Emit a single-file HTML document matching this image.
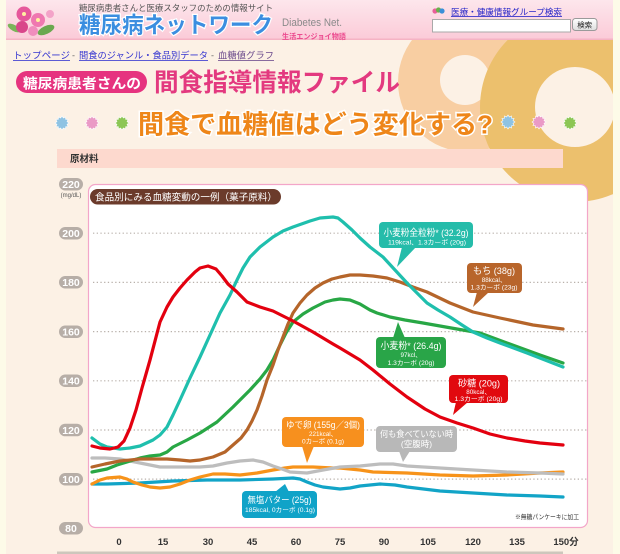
<!DOCTYPE html>
<html><head><meta charset="utf-8">
<style>
html,body{margin:0;padding:0;background:#fdfbe8;}
svg{display:block;}
text{font-family:"Liberation Sans","Noto Sans CJK JP",sans-serif;}
</style></head>
<body>
<svg width="620" height="554" viewBox="0 0 620 554" xmlns="http://www.w3.org/2000/svg">
<defs>
<linearGradient id="hdr" x1="0" y1="0" x2="0" y2="1">
<stop offset="0" stop-color="#fde6ec"/><stop offset="1" stop-color="#fbcbd8"/>
</linearGradient>
<linearGradient id="btn" x1="0" y1="0" x2="0" y2="1">
<stop offset="0" stop-color="#ffffff"/><stop offset="1" stop-color="#dedede"/>
</linearGradient>
<clipPath id="pg"><rect x="6" y="40" width="607" height="514"/></clipPath>
</defs>
<rect x="0" y="0" width="620" height="554" fill="#fdfbe8"/>
<rect x="6" y="40" width="607" height="514" fill="#fcf1e5"/>
<g clip-path="url(#pg)">
<circle cx="468" cy="82" r="70" fill="#f8cea2"/>
<circle cx="465" cy="80" r="25" fill="#fcf1e5"/>
<circle cx="575" cy="107" r="95" fill="#ecc06d"/>
<circle cx="575" cy="107" r="40" fill="#fcf1e5"/>
<circle cx="533" cy="183" r="4" fill="#ecc06d"/>
</g>
<!-- header -->
<rect x="6" y="0" width="607" height="39" fill="url(#hdr)"/>
<rect x="6" y="38.5" width="607" height="1.5" fill="#f5b3c4"/>
<g>
<ellipse cx="46" cy="30" rx="9" ry="4" fill="#6aa84f" transform="rotate(-25 46 30)"/>
<ellipse cx="14" cy="28" rx="7" ry="3" fill="#7bb45a" transform="rotate(30 14 28)"/>
<circle cx="24" cy="14" r="7.5" fill="#e6579b"/>
<circle cx="38" cy="20" r="7" fill="#ef78b0"/>
<circle cx="22" cy="27" r="6" fill="#d9468a"/>
<circle cx="33" cy="31" r="5" fill="#f08dbd"/>
<circle cx="50" cy="14" r="4" fill="#f3a3c8"/>
<circle cx="24" cy="14" r="2" fill="#fff0a0"/>
<circle cx="38" cy="20" r="2" fill="#fff0a0"/>
</g>
<text x="79" y="11" font-size="8.4" fill="#555" textLength="194" lengthAdjust="spacingAndGlyphs">糖尿病患者さんと医療スタッフのための情報サイト</text>
<text x="79" y="33" font-size="22.5" font-weight="bold" fill="#3b8ee0" stroke="#ffffff" stroke-width="2.5" paint-order="stroke" textLength="194" lengthAdjust="spacingAndGlyphs">糖尿病ネットワーク</text>
<text x="282" y="26" font-size="11" fill="#8a8a8a" textLength="60" lengthAdjust="spacingAndGlyphs">Diabetes Net.</text>
<text x="282" y="39" font-size="7.5" font-weight="bold" fill="#ec4b8f" textLength="64" lengthAdjust="spacingAndGlyphs">生活エンジョイ物語</text>
<g>
<circle cx="435" cy="11" r="2.6" fill="#e8609a"/>
<circle cx="438.5" cy="10" r="2.6" fill="#6ab04c"/>
<circle cx="442" cy="11" r="2.6" fill="#3a8fd8"/>
</g>
<text x="451" y="15" font-size="8.5" fill="#2424c8" textLength="111" lengthAdjust="spacingAndGlyphs">医療・健康情報グループ検索</text>
<rect x="451" y="16.2" width="111" height="0.8" fill="#2424c8"/>
<rect x="432.5" y="19.5" width="138" height="12.5" fill="#ffffff" stroke="#a9a9a9" stroke-width="1"/>
<rect x="572.5" y="18.5" width="24.5" height="12" rx="3" fill="url(#btn)" stroke="#9a9a9a" stroke-width="1"/>
<text x="584.7" y="27.5" font-size="7.5" fill="#222" text-anchor="middle">検索</text>
<!-- breadcrumb -->
<text x="13" y="58.5" font-size="9.3" fill="#3535d0" textLength="57" lengthAdjust="spacingAndGlyphs">トップページ</text>
<rect x="13" y="60" width="57" height="0.8" fill="#3535d0"/>
<text x="72" y="58.5" font-size="9" fill="#666">-</text>
<text x="79" y="58.5" font-size="9.3" fill="#3535d0" textLength="129" lengthAdjust="spacingAndGlyphs">間食のジャンル・食品別データ</text>
<rect x="79" y="60" width="129" height="0.8" fill="#3535d0"/>
<text x="211" y="58.5" font-size="9" fill="#666">-</text>
<text x="218" y="58.5" font-size="9.3" fill="#6b4a8c" textLength="56" lengthAdjust="spacingAndGlyphs">血糖値グラフ</text>
<rect x="218" y="60" width="56" height="0.8" fill="#6b4a8c"/>
<!-- title -->
<rect x="16" y="71" width="131" height="22" rx="11" fill="#e6337f"/>
<text x="23" y="88.5" font-size="14" font-weight="bold" fill="#ffffff" textLength="118" lengthAdjust="spacingAndGlyphs">糖尿病患者さんの</text>
<text x="154" y="91" font-size="25" font-weight="bold" fill="#e3397f" textLength="246" lengthAdjust="spacingAndGlyphs">間食指導情報ファイル</text>
<!-- stars -->
<g stroke="#ffffff" stroke-width="0.6">
<polygon transform="translate(62,123)" fill="#8fc3e3" points="7,0 5.02,1.35 6.06,3.5 3.68,3.68 3.5,6.06 1.35,5.02 0,7 -1.35,5.02 -3.5,6.06 -3.68,3.68 -6.06,3.5 -5.02,1.35 -7,0 -5.02,-1.35 -6.06,-3.5 -3.68,-3.68 -3.5,-6.06 -1.35,-5.02 0,-7 1.35,-5.02 3.5,-6.06 3.68,-3.68 6.06,-3.5 5.02,-1.35"/>
<polygon transform="translate(92,123)" fill="#ea9ac6" points="7,0 5.02,1.35 6.06,3.5 3.68,3.68 3.5,6.06 1.35,5.02 0,7 -1.35,5.02 -3.5,6.06 -3.68,3.68 -6.06,3.5 -5.02,1.35 -7,0 -5.02,-1.35 -6.06,-3.5 -3.68,-3.68 -3.5,-6.06 -1.35,-5.02 0,-7 1.35,-5.02 3.5,-6.06 3.68,-3.68 6.06,-3.5 5.02,-1.35"/>
<polygon transform="translate(122,123)" fill="#8cc654" points="7,0 5.02,1.35 6.06,3.5 3.68,3.68 3.5,6.06 1.35,5.02 0,7 -1.35,5.02 -3.5,6.06 -3.68,3.68 -6.06,3.5 -5.02,1.35 -7,0 -5.02,-1.35 -6.06,-3.5 -3.68,-3.68 -3.5,-6.06 -1.35,-5.02 0,-7 1.35,-5.02 3.5,-6.06 3.68,-3.68 6.06,-3.5 5.02,-1.35"/>
<polygon transform="translate(508,122)" fill="#8fc3e3" points="7,0 5.02,1.35 6.06,3.5 3.68,3.68 3.5,6.06 1.35,5.02 0,7 -1.35,5.02 -3.5,6.06 -3.68,3.68 -6.06,3.5 -5.02,1.35 -7,0 -5.02,-1.35 -6.06,-3.5 -3.68,-3.68 -3.5,-6.06 -1.35,-5.02 0,-7 1.35,-5.02 3.5,-6.06 3.68,-3.68 6.06,-3.5 5.02,-1.35"/>
<polygon transform="translate(539,122)" fill="#ea9ac6" points="7,0 5.02,1.35 6.06,3.5 3.68,3.68 3.5,6.06 1.35,5.02 0,7 -1.35,5.02 -3.5,6.06 -3.68,3.68 -6.06,3.5 -5.02,1.35 -7,0 -5.02,-1.35 -6.06,-3.5 -3.68,-3.68 -3.5,-6.06 -1.35,-5.02 0,-7 1.35,-5.02 3.5,-6.06 3.68,-3.68 6.06,-3.5 5.02,-1.35"/>
<polygon transform="translate(570,123)" fill="#8cc654" points="7,0 5.02,1.35 6.06,3.5 3.68,3.68 3.5,6.06 1.35,5.02 0,7 -1.35,5.02 -3.5,6.06 -3.68,3.68 -6.06,3.5 -5.02,1.35 -7,0 -5.02,-1.35 -6.06,-3.5 -3.68,-3.68 -3.5,-6.06 -1.35,-5.02 0,-7 1.35,-5.02 3.5,-6.06 3.68,-3.68 6.06,-3.5 5.02,-1.35"/>
</g>
<text x="138" y="133.5" font-size="26" font-weight="bold" fill="#ee8619" stroke="#ffffff" stroke-width="3" paint-order="stroke" textLength="355" lengthAdjust="spacingAndGlyphs">間食で血糖値はどう変化する?</text>
<!-- 原材料 bar -->
<rect x="57" y="149" width="506" height="19" fill="#fdd9ce"/>
<text x="70" y="162" font-size="9.5" font-weight="bold" fill="#333">原材料</text>
<!-- chart panel -->
<rect x="88.5" y="184.5" width="499" height="343" rx="7" fill="#ffffff" stroke="#f3a6c9" stroke-width="1.2"/>
<g stroke="#b9b1ab" stroke-width="1.2" stroke-dasharray="1.3 2.4">
<line x1="93" y1="233.2" x2="588" y2="233.2"/>
<line x1="93" y1="282.4" x2="588" y2="282.4"/>
<line x1="93" y1="331.6" x2="588" y2="331.6"/>
<line x1="93" y1="380.8" x2="588" y2="380.8"/>
<line x1="93" y1="430" x2="588" y2="430"/>
<line x1="93" y1="479.1" x2="588" y2="479.1"/>
</g>
<!-- y labels -->
<g fill="#b7aea7">
<rect x="59" y="178" width="24" height="12.5" rx="6.2"/>
<rect x="59" y="227" width="24" height="12.5" rx="6.2"/>
<rect x="59" y="276" width="24" height="12.5" rx="6.2"/>
<rect x="59" y="325.5" width="24" height="12.5" rx="6.2"/>
<rect x="59" y="374.5" width="24" height="12.5" rx="6.2"/>
<rect x="59" y="423.8" width="24" height="12.5" rx="6.2"/>
<rect x="59" y="473" width="24" height="12.5" rx="6.2"/>
<rect x="59" y="522" width="24" height="12.5" rx="6.2"/>
</g>
<g fill="#ffffff" font-size="10.5" font-weight="bold" text-anchor="middle">
<text x="71" y="188">220</text>
<text x="71" y="237">200</text>
<text x="71" y="286">180</text>
<text x="71" y="335.5">160</text>
<text x="71" y="384.5">140</text>
<text x="71" y="433.8">120</text>
<text x="71" y="483">100</text>
<text x="71" y="532">80</text>
</g>
<text x="71" y="197" font-size="6" fill="#555" text-anchor="middle">(mg/dL)</text>
<!-- x labels -->
<g fill="#333" font-size="9.5" font-weight="bold" text-anchor="middle">
<text x="119" y="545">0</text>
<text x="163" y="545">15</text>
<text x="208" y="545">30</text>
<text x="252" y="545">45</text>
<text x="296" y="545">60</text>
<text x="340" y="545">75</text>
<text x="384" y="545">90</text>
<text x="428" y="545">105</text>
<text x="473" y="545">120</text>
<text x="517" y="545">135</text>
<text x="566" y="545">150分</text>
</g>
<rect x="57" y="551.5" width="506" height="2.5" fill="#cdc6bc"/>
<!-- chart title -->
<rect x="90" y="189" width="191" height="15.5" rx="7.7" fill="#6b3b2b"/>
<text x="95" y="200.3" font-size="9.8" fill="#ffffff" textLength="182" lengthAdjust="spacingAndGlyphs">食品別にみる血糖変動の一例（菓子原料）</text>
<!-- series -->
<g fill="none" stroke-width="3.2" stroke-linejoin="round" stroke-linecap="round">
<polyline stroke="#12a4c7" points="92,484 107,484 140,483 173,481 207,480 240,480 273,479 293,478 300,479 307,482 315,485 323,487 340,489 350,488 360,486 380,484 395,485 407,487 440,491 473,493 507,495 540,496 563,497"/>
<polyline stroke="#f7931a" points="92,484 100,480 107,478 120,477 127,479 133,482 142,485 150,487 160,488 170,487 180,484 190,480 200,477 213,474 225,474 240,475 257,473 273,470 285,468 293,467 313,467 333,468 340,468 360,470 373,472 407,473 440,475 473,476 507,475 540,473 563,472"/>
<polyline stroke="#bdbdbd" points="92,458 105,458 120,459 130,461 140,463 150,465 160,467 183,467 200,467 213,466 227,463 240,461 253,460 263,462 273,466 282,469 290,472 307,473 323,470 340,467 360,466 380,464 393,464 407,466 440,468 473,470 507,472 540,473 563,474"/>
<polyline stroke="#28a745" points="92,472 107,469 117,465 127,462 140,458 150,456 160,455 167,452 173,447 187,440 200,433 217,422 233,407 250,390 260,379 267,370 273,360 280,345 286,333 293,322 303,314 313,308 325,302 333,300 340,299 350,300 360,304 370,310 377,313 390,317 405,320 423,323 457,329 480,333 507,343 540,355 563,363"/>
<polyline stroke="#b5652a" points="92,467 105,464 120,461 140,459 167,459 180,460 190,461 200,460 213,457 225,452 233,445 241,438 247,430 252,421 257,410 262,396 267,380 273,365 278,350 283,337 288,324 293,313 300,303 307,295 315,288 323,283 332,279 340,277 350,275 360,275 373,276 387,278 400,282 413,287 427,292 450,303 473,312 500,318 533,325 563,329"/>
<polyline stroke="#1fbfad" points="92,438 100,444 107,447 120,449 130,448 140,446 153,440 160,435 167,427 173,415 180,400 190,378 200,357 210,335 220,313 230,295 237,280 243,268 250,257 260,247 273,237 283,231 293,227 310,221 320,218 333,217 338,218 343,222 352,230 360,238 370,247 383,257 395,270 407,283 417,293 427,303 438,310 450,317 462,325 473,332 487,338 500,343 527,353 545,360 563,367"/>
<polyline stroke="#e3000f" points="92,446 100,448 110,449 118,447 124,441 130,428 136,410 142,388 150,360 160,322 167,307 173,297 180,288 187,280 195,272 200,268 208,266 216,269 222,276 228,284 237,292 247,302 260,307 273,311 293,321 313,332 333,344 340,348 360,360 373,370 390,384 407,397 425,409 440,417 457,423 473,428 490,434 507,438 525,441 540,443 563,445"/>
</g>
<!-- callouts -->
<g>
<rect x="379" y="222" width="94" height="26" rx="4" fill="#25bcaa"/>
<polygon points="402,247 416,247 397,267" fill="#25bcaa"/>
<text x="426" y="236" font-size="9.5" fill="#fff" text-anchor="middle" textLength="85" lengthAdjust="spacingAndGlyphs">小麦粉全粒粉* (32.2g)</text>
<text x="427" y="244.5" font-size="6.3" fill="#fff" text-anchor="middle" textLength="78" lengthAdjust="spacingAndGlyphs">119kcal、1.3カーボ (20g)</text>

<rect x="467" y="263" width="55" height="30" rx="4" fill="#b8652b"/>
<polygon points="477,292 489,292 473,307" fill="#b8652b"/>
<text x="494" y="274" font-size="9.5" fill="#fff" text-anchor="middle" textLength="42" lengthAdjust="spacingAndGlyphs">もち (38g)</text>
<text x="494" y="281.8" font-size="6.3" fill="#fff" text-anchor="middle">88kcal、</text>
<text x="494" y="289.5" font-size="6.3" fill="#fff" text-anchor="middle" textLength="47" lengthAdjust="spacingAndGlyphs">1.3カーボ (23g)</text>

<rect x="376" y="337" width="70" height="31" rx="4" fill="#29a548"/>
<polygon points="393,338 405,338 398,322" fill="#29a548"/>
<text x="411" y="349" font-size="9.5" fill="#fff" text-anchor="middle" textLength="61" lengthAdjust="spacingAndGlyphs">小麦粉* (26.4g)</text>
<text x="411" y="357" font-size="6.3" fill="#fff" text-anchor="middle">97kcl、</text>
<text x="411" y="364.8" font-size="6.3" fill="#fff" text-anchor="middle" textLength="47" lengthAdjust="spacingAndGlyphs">1.3カーボ (20g)</text>

<rect x="449" y="375" width="59" height="28" rx="4" fill="#e1090f"/>
<polygon points="456,402 468,402 453,415" fill="#e1090f"/>
<text x="479" y="386.5" font-size="9.5" fill="#fff" text-anchor="middle" textLength="42" lengthAdjust="spacingAndGlyphs">砂糖 (20g)</text>
<text x="478.5" y="393.8" font-size="6.3" fill="#fff" text-anchor="middle">80kcal、</text>
<text x="478.5" y="400.8" font-size="6.3" fill="#fff" text-anchor="middle" textLength="48" lengthAdjust="spacingAndGlyphs">1.3カーボ (20g)</text>

<rect x="376" y="426" width="81" height="26" rx="4" fill="#b8b8b8"/>
<polygon points="399,451 410,451 403,462" fill="#b8b8b8"/>
<text x="416.5" y="437" font-size="8.5" fill="#fff" text-anchor="middle" textLength="73" lengthAdjust="spacingAndGlyphs">何も食べていない時</text>
<text x="416.5" y="447" font-size="8.5" fill="#fff" text-anchor="middle">(空腹時)</text>

<rect x="282" y="417" width="82" height="30" rx="4" fill="#f7901e"/>
<polygon points="302,446 314,446 307,463" fill="#f7901e"/>
<text x="323" y="428" font-size="9" fill="#fff" text-anchor="middle" textLength="74" lengthAdjust="spacingAndGlyphs">ゆで卵 (155g／3個)</text>
<text x="323" y="436" font-size="6.3" fill="#fff" text-anchor="middle">221kcal、</text>
<text x="323" y="443.5" font-size="6.3" fill="#fff" text-anchor="middle" textLength="42" lengthAdjust="spacingAndGlyphs">0カーボ (0.1g)</text>

<rect x="242" y="491" width="75" height="27" rx="4" fill="#10a3c8"/>
<polygon points="275,492 289,492 285,484" fill="#10a3c8"/>
<text x="279.5" y="503" font-size="9" fill="#fff" text-anchor="middle" textLength="64" lengthAdjust="spacingAndGlyphs">無塩バター (25g)</text>
<text x="280" y="512" font-size="6.3" fill="#fff" text-anchor="middle" textLength="70" lengthAdjust="spacingAndGlyphs">185kcal, 0カーボ (0.1g)</text>
</g>
<text x="515" y="519" font-size="6.5" fill="#333" textLength="64" lengthAdjust="spacingAndGlyphs">※無糖パンケーキに加工</text>
</svg>
</body></html>
